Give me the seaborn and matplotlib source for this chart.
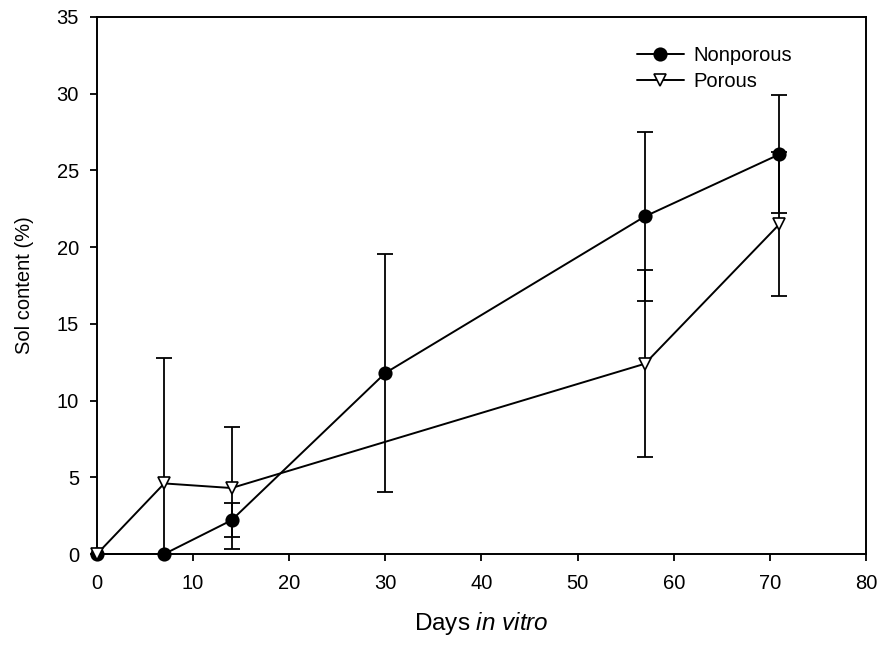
import matplotlib
matplotlib.use("Agg")
import matplotlib.pyplot as plt
import seaborn as sns
import pandas as pd

# Sol content over time for the two scaffold types
days_nonporous = [0, 7, 14, 30, 57, 71]
sol_nonporous = [0.0, 0.0, 2.2, 11.8, 22.0, 26.05]
err_nonporous = [0.0, 0.0, 1.1, 7.75, 5.5, 3.85]

days_porous = [0, 7, 14, 57, 71]
sol_porous = [0.0, 4.6, 4.3, 12.4, 21.5]
err_porous = [0.0, 8.2, 4.0, 6.1, 4.7]

x_ticks = [0, 10, 20, 30, 40, 50, 60, 70, 80]
y_ticks = [0, 5, 10, 15, 20, 25, 30, 35]

sns.set_theme(style="ticks")
plt.rcParams["font.family"] = ["Liberation Sans", "DejaVu Sans"]
plt.rcParams["mathtext.fontset"] = "custom"
plt.rcParams["mathtext.rm"] = "Liberation Sans"
plt.rcParams["mathtext.it"] = "Liberation Sans:italic"

df = pd.concat([
    pd.DataFrame({"day": days_nonporous, "sol": sol_nonporous, "group": "Nonporous"}),
    pd.DataFrame({"day": days_porous, "sol": sol_porous, "group": "Porous"}),
])

fig = plt.figure(figsize=(8.84, 6.46), dpi=100)
ax = fig.add_axes([0.1097, 0.1424, 0.8699, 0.8313])

# error bars drawn underneath the lines and markers
for d, v, e in [(days_nonporous, sol_nonporous, err_nonporous),
                (days_porous, sol_porous, err_porous)]:
    ax.errorbar(d, v, yerr=e, fmt="none", ecolor="black", elinewidth=1.3,
                capsize=6, capthick=1.3, zorder=2)
n_err_lines = len(ax.get_lines())

sns.lineplot(data=df, x="day", y="sol", hue="group", style="group",
             palette={"Nonporous": "black", "Porous": "black"},
             markers={"Nonporous": "o", "Porous": "v"},
             dashes=False, sort=False, ax=ax, zorder=3, linewidth=1.4,
             markersize=9, markeredgecolor="black", markeredgewidth=1.2)

# white-filled triangles; data markers may sit on the axis line
for line in ax.get_lines()[n_err_lines:]:
    if line.get_marker() == "v":
        line.set_markerfacecolor("white")
    line.set_clip_on(False)

ax.set_xlim(0, 80)
ax.set_ylim(0, 35)
ax.set_xticks(x_ticks)
ax.set_yticks(y_ticks)
ax.tick_params(direction="out", length=5, width=1.3, labelsize=14.5,
               colors="black", top=False, right=False)
ax.tick_params(axis="x", pad=9.5)
ax.tick_params(axis="y", pad=8)
for s in ax.spines.values():
    s.set_linewidth(1.4)
    s.set_color("black")

ax.set_xlabel("Days $\\it{in\\ vitro}$", fontsize=17.5, labelpad=12, color="black")
ax.set_ylabel("Sol content (%)", fontsize=14.5, labelpad=16, color="black")

handles, labels = ax.get_legend_handles_labels()
for h in handles:
    if h.get_marker() == "v":
        h.set_markerfacecolor("white")
ax.legend(handles, labels, loc="upper left", bbox_to_anchor=(0.679, 0.979),
          frameon=False, fontsize=14.5, handlelength=2.3, handletextpad=0.5,
          labelspacing=0.35, labelcolor="black")

fig.savefig("out.png", dpi=100)
